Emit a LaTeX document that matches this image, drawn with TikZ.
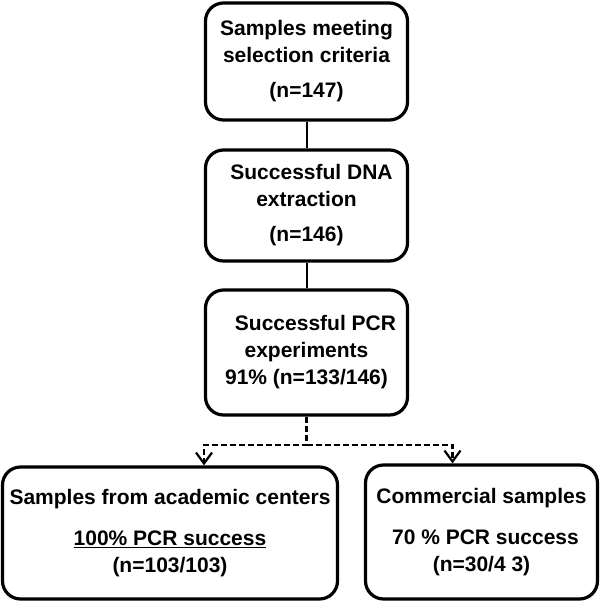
\documentclass[tikz,border=0pt]{standalone}
\usepackage{fontspec}
\setmainfont{Liberation Sans}
\usetikzlibrary{arrows.meta, positioning}
\tikzset{
  box/.style={draw, line width=3.2pt, rounded corners=18pt, align=center,
    font=\bfseries\fontsize{21}{27}\selectfont, inner sep=0pt},
  link/.style={line width=2pt},
  split/.style={line width=2.2pt, dash pattern=on 6pt off 3pt, -{Straight Barb[length=11pt,width=16pt]}}
}
\begin{document}
\begin{tikzpicture}[x=1pt, y=-1pt]
\useasboundingbox (0,0) rectangle (600,606);
% Main chain
\node[box, minimum width=202pt, minimum height=117pt] (select) at (306.5,61.5)
  {Samples meeting\\selection criteria\\[8pt](n=147)};
\node[box, minimum width=202pt, minimum height=111pt] (dna) at (306.5,205.5)
  {\hspace*{10pt}Successful DNA\\extraction\\[8pt](n=146)};
\node[box, minimum width=202pt, minimum height=125pt] (pcr) at (306.5,352.5)
  {\hspace*{18pt}Successful PCR\\experiments\\91\% (n=133/146)};
% Outcome nodes
\node[box, minimum width=335pt, minimum height=132pt] (academic) at (170,533)
  {Samples from academic centers\\[14pt]\underline{100\% PCR success}\\[0pt](n=103/103)};
\node[box, minimum width=232pt, minimum height=134pt] (commercial) at (481.5,532)
  {Commercial samples\\[14pt]\hspace*{8pt}70 \% PCR success\\[0pt](n=30/4 3)};
% Connections
\draw[link] (select) -- (dna);
\draw[link] (dna) -- (pcr);
\coordinate (fork) at ([yshift=-28pt]pcr.south);
\draw[split] (pcr.south) -- (fork) -| ([xshift=34pt]academic.north);
\draw[split] (fork) -| ([xshift=-29pt]commercial.north);
\end{tikzpicture}
\end{document}
